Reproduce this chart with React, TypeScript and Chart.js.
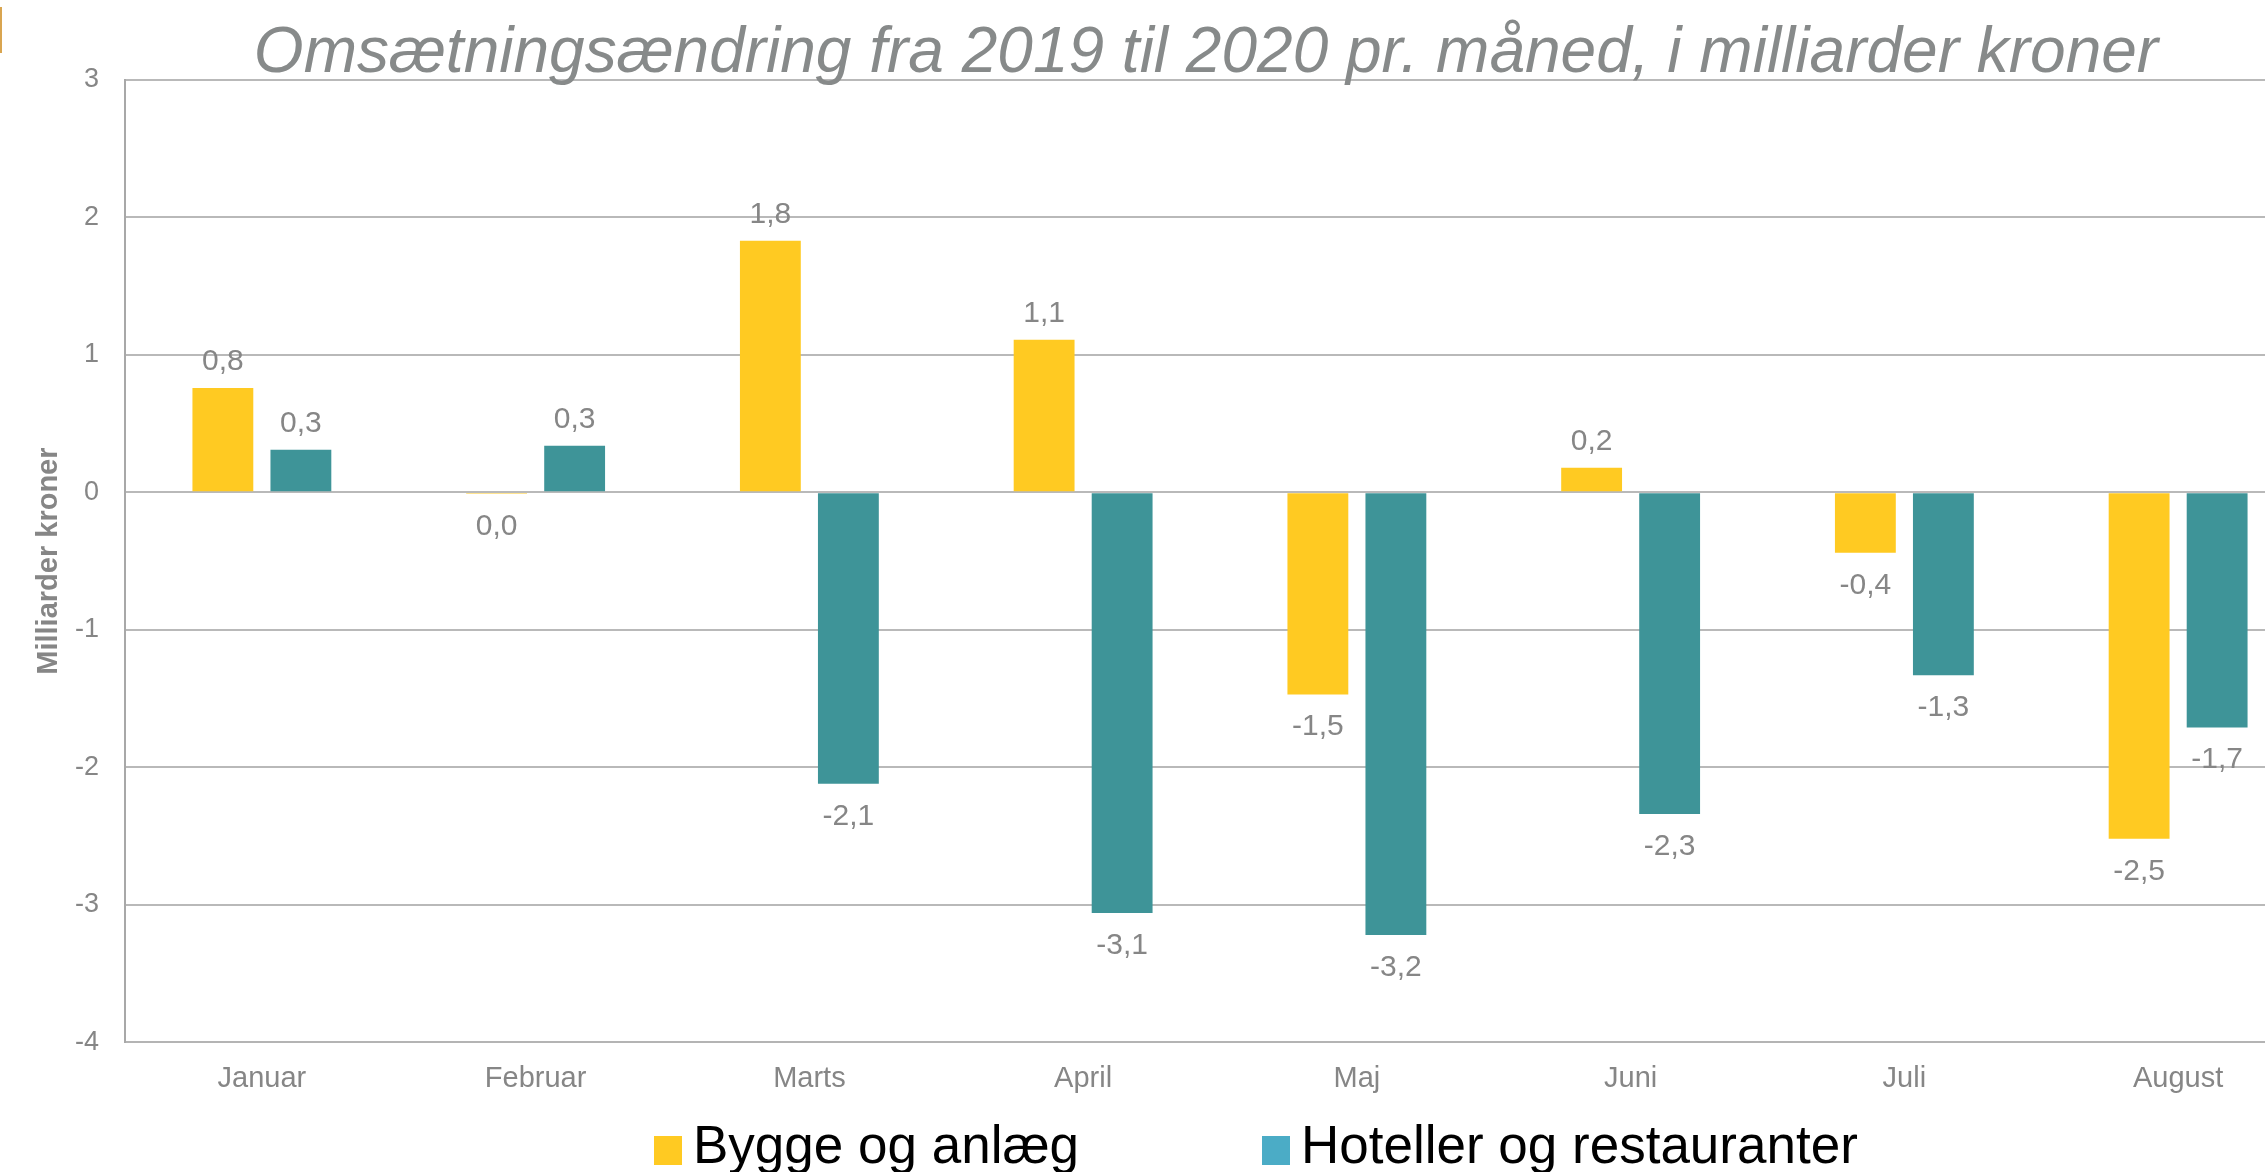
import React, { useEffect, useRef } from "react";
import { Chart, registerables } from "chart.js";

Chart.register(...registerables);

const TITLE = "Omsætningsændring fra 2019 til 2020 pr. måned, i milliarder kroner";
const Y_TITLE = "Milliarder kroner";
const CATEGORIES = ["Januar", "Februar", "Marts", "April", "Maj", "Juni", "Juli", "August"];
const SERIES_NAMES = ["Bygge og anlæg", "Hoteller og restauranter"];
const BYGGE = [0.76, -0.01, 1.83, 1.11, -1.47, 0.18, -0.44, -2.52];
const HOTEL = [0.31, 0.34, -2.12, -3.06, -3.22, -2.34, -1.33, -1.71];
const Y_MIN = -4;
const Y_MAX = 3;
const Y_STEP = 1;

const BAR_COLORS = ["#FFCA22", "#3E9498"];
const LEGEND_COLORS = ["#FFCA22", "#4BACC6"];
const GRAY = "#868686";
const TITLE_GRAY = "#878a8a";
const FONT = "'Liberation Sans', Arial, sans-serif";

const CANVAS_W = 2412;
const CANVAS_H = 1172;
const TITLE_X = 1206;
const TITLE_BASELINE = 72;
const LEGEND_BOX_X = [654, 1262];
const LEGEND_BOX = { w: 28, top: 1136, h: 29 };
const LEGEND_TEXT_GAP = 11;
const LEGEND_BASELINE = 1163;

function fmt(v: number): string {
  const r = Math.round(v * 10) / 10 + 0;
  return r.toFixed(1).replace(".", ",");
}

const titlePlugin = {
  id: "customTitle",
  afterDraw(chart: any) {
    const ctx = chart.ctx;
    ctx.save();
    ctx.font = `italic 64px ${FONT}`;
    ctx.fillStyle = TITLE_GRAY;
    ctx.textAlign = "center";
    ctx.textBaseline = "alphabetic";
    ctx.fillText(TITLE, TITLE_X, TITLE_BASELINE);
    ctx.restore();
  },
};

const dataLabelPlugin = {
  id: "dataLabels",
  afterDatasetsDraw(chart: any) {
    const ctx = chart.ctx;
    ctx.save();
    ctx.font = `30px ${FONT}`;
    ctx.fillStyle = GRAY;
    ctx.textAlign = "center";
    ctx.textBaseline = "alphabetic";
    chart.data.datasets.forEach((ds: any, di: number) => {
      const meta = chart.getDatasetMeta(di);
      meta.data.forEach((el: any, i: number) => {
        const v = ds.data[i];
        const y = v > 0 ? el.y - 18 : el.y + 41;
        ctx.fillText(fmt(v), el.x, y);
      });
    });
    ctx.restore();
  },
};

const legendPlugin = {
  id: "customLegend",
  afterDraw(chart: any) {
    const ctx = chart.ctx;
    ctx.save();
    ctx.font = `53px ${FONT}`;
    ctx.textAlign = "left";
    ctx.textBaseline = "alphabetic";
    chart.data.datasets.forEach((ds: any, di: number) => {
      const x = LEGEND_BOX_X[di];
      ctx.fillStyle = LEGEND_COLORS[di];
      ctx.fillRect(x, LEGEND_BOX.top, LEGEND_BOX.w, LEGEND_BOX.h);
      ctx.fillStyle = "#000000";
      ctx.fillText(ds.label, x + LEGEND_BOX.w + LEGEND_TEXT_GAP, LEGEND_BASELINE);
    });
    ctx.restore();
  },
};

export default function App() {
  const canvasRef = useRef<HTMLCanvasElement | null>(null);

  useEffect(() => {
    const canvas = canvasRef.current;
    if (!canvas) return;
    const chart = new Chart(canvas, {
      type: "bar",
      data: {
        labels: CATEGORIES,
        datasets: [
          { label: SERIES_NAMES[0], data: BYGGE, backgroundColor: BAR_COLORS[0], borderWidth: 0 },
          { label: SERIES_NAMES[1], data: HOTEL, backgroundColor: BAR_COLORS[1], borderWidth: 0 },
        ],
      },
      options: {
        responsive: false,
        animation: false,
        devicePixelRatio: 1,
        layout: { padding: { left: 0, right: 97, top: 80, bottom: 57 } },
        datasets: {
          bar: { categoryPercentage: 0.57, barPercentage: 0.78 },
        },
        plugins: {
          legend: { display: false },
          tooltip: { enabled: false },
          title: { display: false },
        },
        scales: {
          x: {
            grid: { display: false, drawTicks: false },
            border: { display: true, color: "#b4b4b4", width: 2 },
            ticks: {
              color: GRAY,
              font: { family: FONT, size: 29 },
              padding: 19,
              maxRotation: 0,
              autoSkip: false,
            },
          },
          y: {
            min: Y_MIN,
            max: Y_MAX,
            afterFit: (scale: any) => {
              scale.width = 125;
            },
            grid: { color: "#b9b9b9", lineWidth: 2, drawTicks: false },
            border: { display: true, color: "#a8a8a8", width: 2 },
            ticks: {
              stepSize: Y_STEP,
              color: GRAY,
              font: { family: FONT, size: 27 },
              padding: 26,
              callback: (v: any) => String(v),
            },
            title: {
              display: true,
              text: Y_TITLE,
              color: GRAY,
              font: { family: FONT, size: 29, weight: "bold" },
              padding: { top: 32, bottom: 0 },
            },
          },
        },
      },
      plugins: [dataLabelPlugin, legendPlugin, titlePlugin],
    });
    return () => chart.destroy();
  }, []);

  return (
    <div
      style={{
        position: "fixed",
        left: 0,
        top: 0,
        width: 2265,
        height: 1172,
        overflow: "hidden",
        background: "#ffffff",
      }}
    >
      <div
        style={{
          position: "absolute",
          left: 0,
          top: 7,
          width: 2,
          height: 46,
          background: "#D9A550",
        }}
      />
      <canvas
        ref={canvasRef}
        width={CANVAS_W}
        height={CANVAS_H}
        style={{ display: "block", width: CANVAS_W, height: CANVAS_H }}
      />
    </div>
  );
}
